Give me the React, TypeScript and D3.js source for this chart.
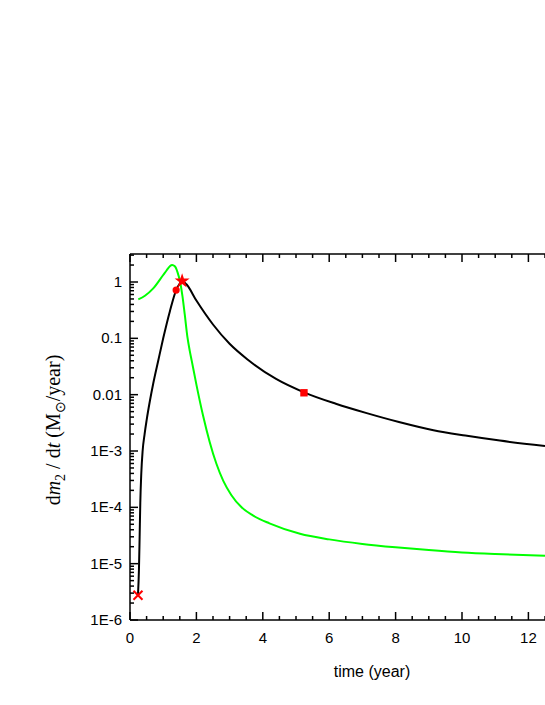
import React from "react";
import * as d3 from "d3";

const blackT = [0.24, 0.27, 0.29, 0.31, 0.34, 0.38, 0.44, 0.5, 0.6, 0.7, 0.85, 1.0, 1.2, 1.39, 1.5, 1.57, 1.7, 2.0, 2.5, 3.0, 3.55, 4.4, 5.24, 6.2, 7.13, 8.1, 9.14, 10.1, 11.14, 12.5];
const blackV = [2.75e-6, 8e-6, 3e-5, 1.2e-4, 4e-4, 1e-3, 2e-3, 3.5e-3, 7.8e-3, 0.0158, 0.04, 0.1, 0.3, 0.72, 0.94, 1.04, 0.91, 0.468, 0.176, 0.08, 0.0417, 0.019, 0.011, 6.9e-3, 4.7e-3, 3.27e-3, 2.34e-3, 1.88e-3, 1.53e-3, 1.23e-3];

const greenT = [0.25, 0.45, 0.7, 1.0, 1.1, 1.2, 1.27, 1.35, 1.43, 1.51, 1.58, 1.65, 1.73, 1.8, 1.86, 2.0, 2.2, 2.4, 2.6, 2.81, 3.05, 3.36, 3.7, 4.2, 5.12, 6, 7, 8, 9, 10, 11, 12.5];
const greenV = [0.49, 0.57, 0.77, 1.33, 1.6, 1.9, 2.0, 1.9, 1.5, 1.0, 0.562, 0.263, 0.105, 0.06, 0.0398, 0.0151, 4.27e-3, 1.45e-3, 6.0e-4, 2.95e-4, 1.66e-4, 1.0e-4, 7.2e-5, 5.2e-5, 3.4e-5, 2.7e-5, 2.24e-5, 1.95e-5, 1.74e-5, 1.58e-5, 1.48e-5, 1.38e-5];

const xTicks = [0, 2, 4, 6, 8, 10, 12];
const yTicks = [1, 0.1, 0.01, 1e-3, 1e-4, 1e-5, 1e-6];
const yTickLabels = ["1", "0.1", "0.01", "1E-3", "1E-4", "1E-5", "1E-6"];

const markCross = { t: 0.24, v: 2.75e-6 };
const markCircle = { t: 1.39, v: 0.72 };
const markStar = { t: 1.57, v: 1.04 };
const markSquare = { t: 5.24, v: 0.0108 };

const L = 130, R = 545, T = 254, B = 620;

export default function App() {
  const x = d3.scaleLinear().domain([0, 12.5]).range([L, R]);
  const y = d3.scaleLog().domain([1e-6, 1]).range([B, 282]);
  const line = d3
    .line<[number, number]>()
    .x((d) => x(d[0]))
    .y((d) => y(d[1]))
    .curve(d3.curveMonotoneX);
  const black = blackT.map((t, i) => [t, blackV[i]] as [number, number]);
  const green = greenT.map((t, i) => [t, greenV[i]] as [number, number]);

  const xMinor = d3.range(0, 12.51, 0.5);
  const yMinor: number[] = [];
  for (let e = -6; e <= 0; e++) {
    for (let m = 1; m <= 9; m++) {
      const v = m * Math.pow(10, e);
      if (y(v) >= T - 0.5) yMinor.push(v);
    }
  }

  const star = d3.symbol().type(d3.symbolStar).size(70)() as string;
  const sans = "'Liberation Sans', Arial, sans-serif";
  const serif = "'Liberation Serif', 'Times New Roman', serif";

  return (
    <svg width={545} height={705} style={{ position: "absolute", left: 0, top: 0 }}>
      <rect width={545} height={705} fill="#fff" />
      <defs>
        <clipPath id="plot">
          <rect x={L} y={T} width={R - L} height={B - T} />
        </clipPath>
      </defs>
      <g clipPath="url(#plot)">
        <path d={line(green) || ""} fill="none" stroke="#00ff00" strokeWidth={2} />
        <path d={line(black) || ""} fill="none" stroke="#000" strokeWidth={2} />
      </g>
      <g stroke="#ff0000" strokeWidth={2}>
        <line x1={x(markCross.t) - 4.5} y1={y(markCross.v) - 4.5} x2={x(markCross.t) + 4.5} y2={y(markCross.v) + 4.5} />
        <line x1={x(markCross.t) - 4.5} y1={y(markCross.v) + 4.5} x2={x(markCross.t) + 4.5} y2={y(markCross.v) - 4.5} />
      </g>
      <circle cx={x(markCircle.t)} cy={y(markCircle.v)} r={3.6} fill="#ff0000" />
      <path d={star} transform={`translate(${x(markStar.t)},${y(markStar.v)})`} fill="#ff0000" />
      <rect x={x(markSquare.t) - 3.7} y={y(markSquare.v) - 3.7} width={7.4} height={7.4} fill="#ff0000" />

      <g stroke="#000" strokeWidth={1.5} fill="none">
        <line x1={L} y1={T} x2={R} y2={T} />
        <line x1={L} y1={B} x2={R} y2={B} />
        <line x1={L} y1={T} x2={L} y2={B} />
        {xMinor.map((v, i) => {
          const major = Math.abs(v - Math.round(v / 2) * 2) < 1e-6;
          const len = major ? 8 : 4;
          return (
            <g key={"xm" + i}>
              <line x1={x(v)} y1={B} x2={x(v)} y2={B - len} />
              <line x1={x(v)} y1={T} x2={x(v)} y2={T + len} />
            </g>
          );
        })}
        {yMinor.map((v, i) => {
          const lg = Math.log10(v);
          const major = Math.abs(lg - Math.round(lg)) < 1e-6;
          const len = major ? 8 : 4;
          return <line key={"ym" + i} x1={L} y1={y(v)} x2={L + len} y2={y(v)} />;
        })}
      </g>
      {xTicks.map((v) => (
        <text key={"xt" + v} x={x(v)} y={643} textAnchor="middle" fontFamily={sans} fontSize={15} fill="#000">
          {v}
        </text>
      ))}
      {yTicks.map((v, i) => (
        <text key={"yt" + i} x={122} y={y(v) + 5} textAnchor="end" fontFamily={sans} fontSize={15} fill="#000">
          {yTickLabels[i]}
        </text>
      ))}
      <text x={372} y={677} textAnchor="middle" fontFamily={sans} fontSize={16} fill="#000">
        time (year)
      </text>
      <text
        transform="translate(60,430) rotate(-90)"
        textAnchor="middle"
        fontFamily={serif}
        fontSize={20}
        fill="#000"
      >
        d<tspan fontStyle="italic">m</tspan>
        <tspan fontSize={14} dy={5}>2</tspan>
        <tspan dy={-5}> / d</tspan>
        <tspan fontStyle="italic">t</tspan>
        <tspan> (M</tspan>
        <tspan fontSize={14} dy={5}>⊙</tspan>
        <tspan dy={-5}>/year)</tspan>
      </text>
    </svg>
  );
}
